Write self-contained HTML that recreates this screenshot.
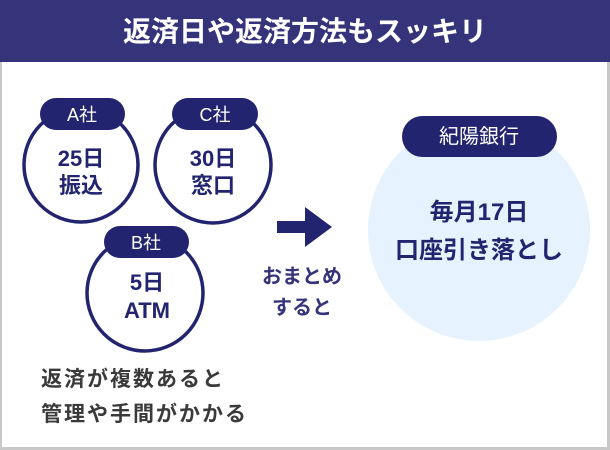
<!DOCTYPE html>
<html><head><meta charset="utf-8"><style>
body{margin:0;width:610px;height:450px;overflow:hidden;background:#fff;font-family:"Liberation Sans","Noto Sans CJK JP",sans-serif}
</style></head><body>
<svg width="610" height="450" xmlns="http://www.w3.org/2000/svg" style="display:block;font-family:'Liberation Sans','Noto Sans CJK JP',sans-serif">
<rect x="0" y="0" width="610" height="450" fill="#c8c8c8"/>
<rect x="2" y="62" width="605" height="385" fill="#fff"/>
<rect x="0" y="0" width="610" height="62" fill="#353379"/>
<text x="305" y="41" text-anchor="middle" font-size="28" font-weight="bold" fill="#fff">返済日や返済方法もスッキリ</text>

<g fill="#fff" stroke="#22246f" stroke-width="3.5">
<circle cx="81" cy="165" r="57"/>
<circle cx="213" cy="165" r="58"/>
<circle cx="145" cy="293" r="58"/>
</g>
<circle cx="479" cy="230" r="111" fill="#e6f2fd"/>

<g fill="#22246f">
<rect x="40" y="98" width="85" height="32" rx="16"/>
<rect x="172" y="98" width="86" height="32" rx="16"/>
<rect x="104" y="226" width="85" height="32" rx="16"/>
<rect x="402" y="116" width="155" height="41" rx="20.5"/>
<polygon points="277,221 305,221 305,207 332,227 305,247 305,233 277,233"/>
</g>

<g fill="#fff" font-size="18" text-anchor="middle">
<text x="82" y="121">A社</text>
<text x="215" y="121">C社</text>
<text x="146" y="249">B社</text>
<text x="479" y="143" font-size="20">紀陽銀行</text>
</g>

<g fill="#22246f" font-size="22" font-weight="bold" text-anchor="middle">
<text x="81" y="166">25日</text>
<text x="81" y="193">振込</text>
<text x="213" y="166">30日</text>
<text x="213" y="193">窓口</text>
<text x="147" y="290">5日</text>
<text x="147" y="318">ATM</text>
<text x="479" y="220" font-size="24">毎月17日</text>
<text x="479" y="258" font-size="24">口座引き落とし</text>
</g>

<g fill="#353379" font-size="20" font-weight="bold" text-anchor="middle">
<text x="302" y="283">おまとめ</text>
<text x="302" y="314">すると</text>
</g>

<g fill="#3a3a3a" font-size="21" font-weight="bold" letter-spacing="2">
<text x="41" y="386">返済が複数あると</text>
<text x="41" y="421">管理や手間がかかる</text>
</g>
</svg>
</body></html>
